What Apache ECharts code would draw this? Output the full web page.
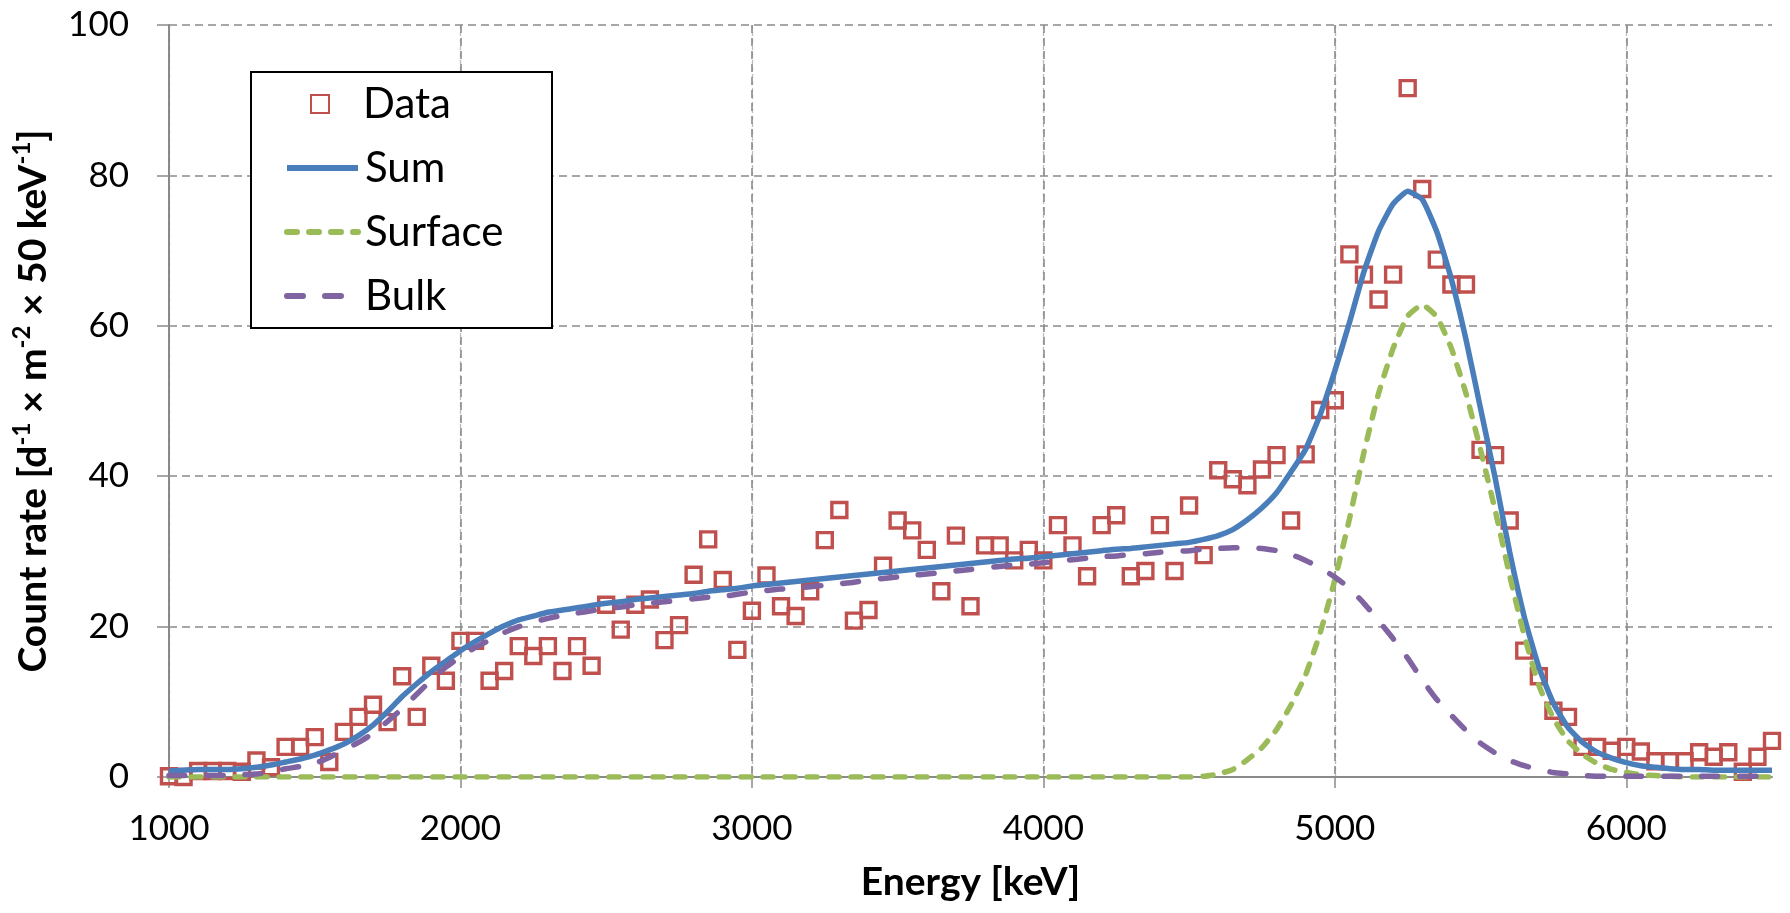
<!DOCTYPE html>
<html lang="en">
<head>
    <meta charset="UTF-8">
    <title>Count rate vs energy</title>
    <script src="https://cdn.jsdelivr.net/npm/echarts@6.0.0/dist/echarts.min.js"></script>
    <style>
        html, body { margin: 0; padding: 0; background: #fff; }
    </style>
</head>
<body>
<div id="echarts" style="width: 1790px;height:913px"></div>
<script>
    // bin centres, 50 keV steps
    var energy = [
        1000, 1050, 1100, 1150, 1200, 1250, 1300, 1350, 1400, 1450,
        1500, 1550, 1600, 1650, 1700, 1750, 1800, 1850, 1900, 1950,
        2000, 2050, 2100, 2150, 2200, 2250, 2300, 2350, 2400, 2450,
        2500, 2550, 2600, 2650, 2700, 2750, 2800, 2850, 2900, 2950,
        3000, 3050, 3100, 3150, 3200, 3250, 3300, 3350, 3400, 3450,
        3500, 3550, 3600, 3650, 3700, 3750, 3800, 3850, 3900, 3950,
        4000, 4050, 4100, 4150, 4200, 4250, 4300, 4350, 4400, 4450,
        4500, 4550, 4600, 4650, 4700, 4750, 4800, 4850, 4900, 4950,
        5000, 5050, 5100, 5150, 5200, 5250, 5300, 5350, 5400, 5450,
        5500, 5550, 5600, 5650, 5700, 5750, 5800, 5850, 5900, 5950,
        6000, 6050, 6100, 6150, 6200, 6250, 6300, 6350, 6400, 6450,
        6500
    ];

    // measured count rate
    var dataRate = [
        0.1, 0.0, 0.8, 0.8, 0.8, 0.7, 2.2, 1.3, 4.0, 4.0,
        5.3, 2.0, 6.0, 8.0, 9.6, 7.3, 13.4, 8.0, 14.8, 12.8,
        18.1, 18.1, 12.8, 14.1, 17.4, 16.1, 17.4, 14.1, 17.4, 14.8,
        22.9, 19.6, 22.9, 23.6, 18.2, 20.2, 26.9, 31.6, 26.2, 16.9,
        22.1, 26.8, 22.7, 21.4, 24.7, 31.5, 35.5, 20.8, 22.2, 28.1,
        34.1, 32.8, 30.2, 24.7, 32.1, 22.7, 30.8, 30.8, 28.8, 30.2,
        28.8, 33.5, 30.8, 26.7, 33.5, 34.8, 26.7, 27.4, 33.5, 27.4,
        36.1, 29.5, 40.8, 39.6, 38.8, 40.9, 42.8, 34.1, 42.9, 48.8,
        50.1, 69.5, 66.8, 63.5, 66.8, 91.6, 78.2, 68.8, 65.5, 65.5,
        43.5, 42.8, 34.1, 16.8, 13.4, 8.8, 8.0, 4.0, 4.0, 3.5,
        4.0, 3.4, 2.1, 2.1, 2.1, 3.3, 2.7, 3.3, 0.7, 2.7,
        4.8
    ];

    var sumFit = [
        0.8, 0.9, 1.0, 1.0, 1.0, 1.1, 1.3, 1.6, 2.0, 2.4,
        2.9, 3.6, 4.4, 5.5, 6.9, 8.7, 10.7, 12.4, 14.0, 15.4,
        16.8, 18.0, 19.1, 20.1, 20.9, 21.4, 21.9, 22.2, 22.5, 22.8,
        23.1, 23.3, 23.6, 23.8, 24.0, 24.2, 24.4, 24.7, 24.9, 25.1,
        25.4, 25.6, 25.8, 26.0, 26.2, 26.4, 26.6, 26.8, 27.0, 27.2,
        27.4, 27.6, 27.8, 28.0, 28.2, 28.4, 28.6, 28.8, 29.0, 29.1,
        29.3, 29.5, 29.7, 29.9, 30.1, 30.3, 30.4, 30.6, 30.8, 31.0,
        31.2, 31.6, 32.1, 32.9, 34.2, 35.8, 37.8, 40.6, 43.6, 48.2,
        54.0, 60.4, 67.2, 72.6, 76.2, 77.9, 76.8, 72.5, 66.2, 58.2,
        49.0, 39.8, 29.9, 21.3, 14.6, 9.8, 6.6, 4.6, 3.3, 2.5,
        1.9, 1.5, 1.3, 1.1, 1.0, 1.0, 0.9, 0.9, 0.9, 0.9,
        0.9
    ];

    var surfaceFit = [
        0, 0, 0, 0, 0, 0, 0, 0, 0, 0,
        0, 0, 0, 0, 0, 0, 0, 0, 0, 0,
        0, 0, 0, 0, 0, 0, 0, 0, 0, 0,
        0, 0, 0, 0, 0, 0, 0, 0, 0, 0,
        0, 0, 0, 0, 0, 0, 0, 0, 0, 0,
        0, 0, 0, 0, 0, 0, 0, 0, 0, 0,
        0, 0, 0, 0, 0, 0, 0, 0, 0, 0,
        0.0, 0.1, 0.4, 1.0, 2.3, 3.9, 6.3, 9.6, 13.6, 19.2,
        26.2, 34.3, 43.2, 51.0, 57.0, 61.3, 62.8, 61.2, 57.0, 51.0,
        43.5, 35.5, 26.8, 18.8, 12.2, 7.8, 4.8, 3.0, 1.8, 1.0,
        0.6, 0.3, 0.2, 0.1, 0, 0, 0, 0, 0, 0,
        0
    ];

    var bulkFit = [
        0.2, 0.2, 0.2, 0.2, 0.2, 0.3, 0.4, 0.7, 1.1, 1.4,
        1.8, 2.6, 3.6, 4.6, 5.8, 7.4, 9.1, 11.0, 12.9, 14.6,
        16.0, 17.2, 18.2, 19.2, 20.0, 20.6, 21.1, 21.5, 21.8, 22.1,
        22.4, 22.6, 22.9, 23.1, 23.3, 23.5, 23.7, 23.9, 24.0, 24.3,
        24.6, 24.8, 25.0, 25.1, 25.3, 25.5, 25.7, 25.9, 26.2, 26.4,
        26.6, 26.8, 27.0, 27.2, 27.4, 27.6, 27.8, 28.0, 28.2, 28.3,
        28.5, 28.7, 28.9, 29.1, 29.3, 29.4, 29.6, 29.7, 29.9, 30.0,
        30.1, 30.3, 30.4, 30.5, 30.5, 30.4, 30.1, 29.6, 28.8, 27.8,
        26.6, 25.1, 23.1, 20.8, 18.4, 15.8, 12.9, 10.3, 8.2, 6.2,
        4.5, 3.2, 2.2, 1.5, 1.0, 0.6, 0.4, 0.2, 0.1, 0.1,
        0.1, 0.1, 0.1, 0.1, 0.1, 0.1, 0.1, 0.1, 0.1, 0.1,
        0.1
    ];

    var xLabels = [1000, 2000, 3000, 4000, 5000, 6000];

    function pairs(ys) {
        return energy.map(function (e, i) { return [e, ys[i]]; });
    }

    var font = 'Lato, "Noto Sans", sans-serif';
    var gridGrey = '#8a8a8a';

    var chartDom = document.getElementById('echarts');
    var myChart = echarts.init(chartDom, null, {renderer: 'canvas'});
    var option;

    option = {
        animation: false,
        backgroundColor: '#fff',
        grid: {
            left: 169,
            right: 18,
            top: 25,
            bottom: 136,
            containLabel: false
        },
        graphic: [{
            // legend frame
            type: 'rect',
            z: 3,
            shape: {x: 251, y: 72, width: 301, height: 256},
            style: {fill: '#fff', stroke: '#000', lineWidth: 2}
        }],
        legend: [{
            data: ['Data'],
            orient: 'vertical',
            left: 310,
            top: 72,
            padding: 0,
            itemGap: 0,
            itemWidth: 18,
            itemHeight: 18,
            z: 10,
            textStyle: {
                fontFamily: font, fontSize: 42, color: '#000',
                lineHeight: 64, padding: [0, 0, 0, 29]
            }
        }, {
            data: ['Sum', 'Surface', 'Bulk'],
            orient: 'vertical',
            left: 284,
            top: 136,
            padding: 0,
            itemGap: 0,
            itemWidth: 71,
            itemHeight: 18,
            z: 10,
            // hide the point marker that line legends draw in the middle
            itemStyle: {opacity: 0},
            lineStyle: {width: 6},
            textStyle: {
                fontFamily: font, fontSize: 42, color: '#000',
                lineHeight: 64, padding: [0, 0, 0, 2]
            }
        }],
        xAxis: [{
            type: 'value',
            min: 1000,
            max: 6500,
            interval: 500,
            name: 'Energy [keV]',
            nameLocation: 'middle',
            nameGap: 86,
            nameTextStyle: {fontFamily: font, fontSize: 39, fontWeight: 'bold', color: '#000'},
            axisLine: {show: true, onZero: false, lineStyle: {color: gridGrey, width: 2}},
            axisTick: {show: true, inside: false, length: 11, customValues: xLabels,
                lineStyle: {color: gridGrey, width: 1.5}},
            axisLabel: {fontFamily: font, fontSize: 35, color: '#000', margin: 34,
                customValues: xLabels,
                formatter: function (v) { return String(v); }},
            splitLine: {show: true, lineStyle: {color: '#bdbdbd', width: 1.3, type: [4, 3]}}
        }, {
            type: 'value',
            min: 1000,
            max: 6500,
            interval: 1000,
            position: 'bottom',
            axisLine: {show: false},
            axisTick: {show: false},
            axisLabel: {show: false},
            splitLine: {show: true, showMinLine: false, showMaxLine: false,
                lineStyle: {color: gridGrey, width: 1.6, type: [8, 5]}}
        }],
        yAxis: {
            type: 'value',
            min: 0,
            max: 100,
            interval: 20,
            name: '{t|Count rate [d}{s|-1}{t| × m}{s|-2}{t| × 50 keV}{s|-1}{t|]}',
            nameLocation: 'middle',
            nameGap: 113,
            nameTextStyle: {
                rich: {
                    t: {fontFamily: font, fontSize: 39, fontWeight: 'bold', color: '#000', lineHeight: 46},
                    s: {fontFamily: font, fontSize: 24, fontWeight: 'bold', color: '#000',
                        lineHeight: 46, verticalAlign: 'top'}
                }
            },
            axisLine: {show: true, lineStyle: {color: gridGrey, width: 2}},
            axisTick: {show: true, inside: false, length: 12, lineStyle: {color: gridGrey, width: 1.5}},
            axisLabel: {fontFamily: font, fontSize: 35, color: '#000', margin: 40},
            splitLine: {show: true, lineStyle: {color: gridGrey, width: 1.6, type: [8, 5]}}
        },
        series: [{
            name: 'Data',
            type: 'scatter',
            symbol: 'rect',
            symbolSize: 15,
            z: 3,
            itemStyle: {color: 'rgba(255,255,255,0)', borderColor: '#c0504d', borderWidth: 3.4, opacity: 1},
            data: pairs(dataRate)
        }, {
            name: 'Sum',
            type: 'line',
            symbol: 'none',
            smooth: 0.15,
            z: 4,
            lineStyle: {color: '#4a7ebb', width: 5.5},
            itemStyle: {color: '#4a7ebb'},
            data: pairs(sumFit)
        }, {
            name: 'Surface',
            type: 'line',
            symbol: 'none',
            smooth: 0.15,
            z: 4,
            lineStyle: {color: '#9bbb59', width: 5.5, type: [10, 12], cap: 'round'},
            itemStyle: {color: '#9bbb59'},
            data: pairs(surfaceFit)
        }, {
            name: 'Bulk',
            type: 'line',
            symbol: 'none',
            smooth: 0.15,
            z: 4,
            lineStyle: {color: '#8064a2', width: 5.5, type: [16, 22], cap: 'round'},
            itemStyle: {color: '#8064a2'},
            data: pairs(bulkFit)
        }]
    };

    option && myChart.setOption(option);
</script>
</body>
</html>
